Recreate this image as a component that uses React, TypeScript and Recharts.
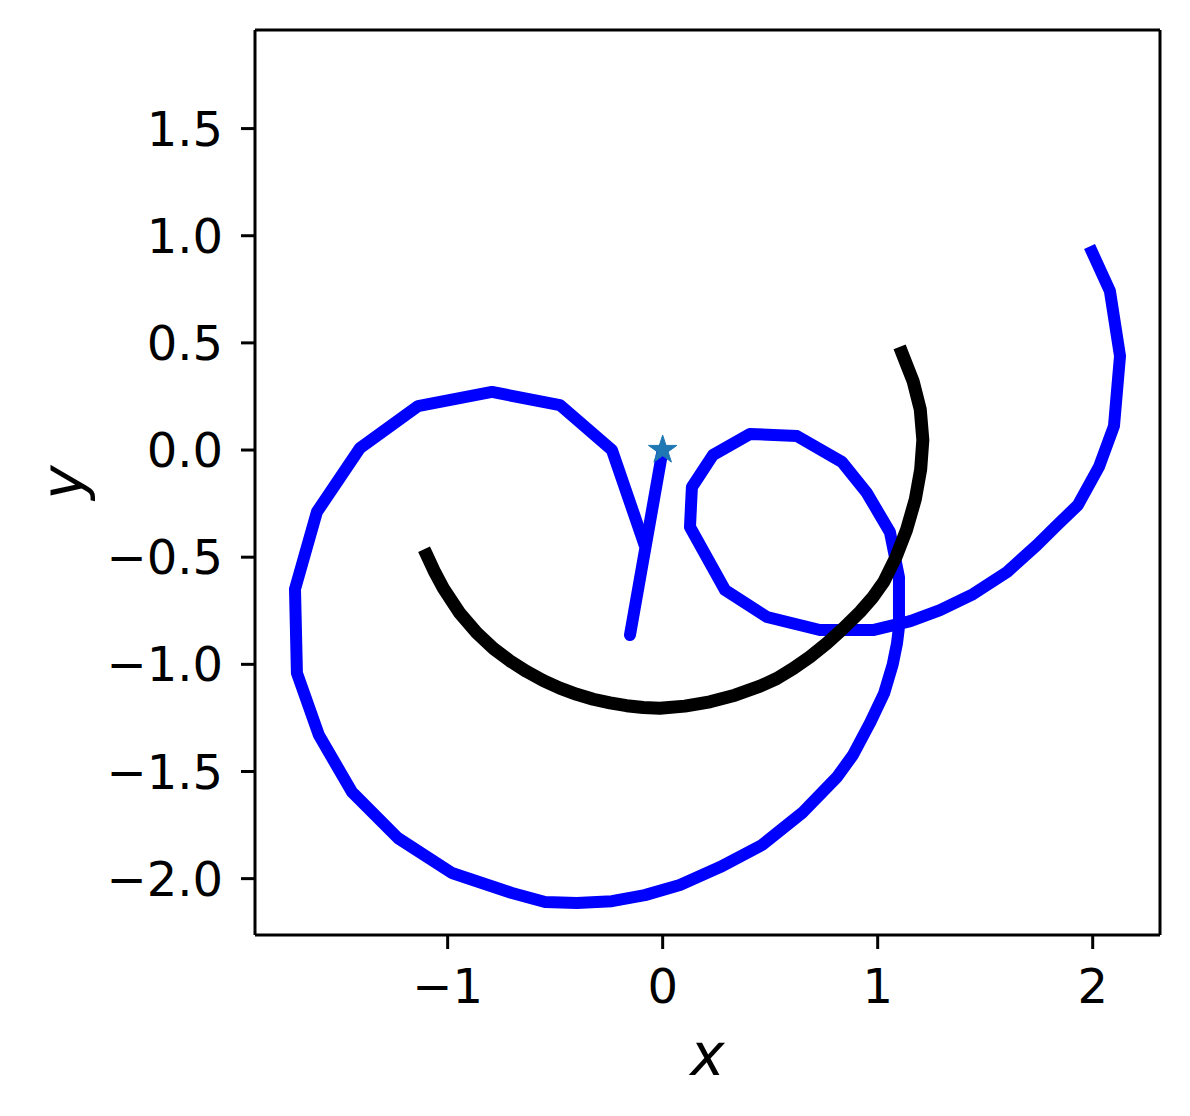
import React from 'react';
import { ScatterChart, Scatter, XAxis, YAxis, Symbols } from 'recharts';

const xTicks = [-1, 0, 1, 2];
const yTicks = [-2, -1.5, -1, -0.5, 0, 0.5, 1, 1.5];
const xDomain = [-1.896, 2.313];
const yDomain = [-2.263, 1.96];

const stemX = [0.0, -0.152];
const stemY = [0.0, -0.863];

const spiralX = [-0.092, -0.236, -0.478, -0.794, -1.138, -1.408, -1.608, -1.710, -1.701, -1.599, -1.445, -1.231, -0.980, -0.701, -0.547, -0.399, -0.236, -0.083, 0.080, 0.267, 0.462, 0.648, 0.811, 0.885, 0.964, 1.030, 1.070, 1.090, 1.099, 1.099, 1.057, 0.950, 0.834, 0.625, 0.406, 0.234, 0.136, 0.127, 0.290, 0.485, 0.731, 0.978, 1.152, 1.290, 1.444, 1.602, 1.741, 1.835, 1.931, 2.029, 2.099, 2.127, 2.080, 1.997];
const spiralY = [-0.420, 0.000, 0.210, 0.271, 0.205, 0.009, -0.289, -0.649, -1.041, -1.330, -1.596, -1.811, -1.974, -2.067, -2.109, -2.114, -2.105, -2.077, -2.030, -1.946, -1.843, -1.694, -1.526, -1.423, -1.274, -1.135, -1.000, -0.901, -0.826, -0.593, -0.383, -0.201, -0.056, 0.065, 0.075, -0.023, -0.173, -0.359, -0.653, -0.779, -0.840, -0.840, -0.798, -0.747, -0.672, -0.569, -0.443, -0.350, -0.257, -0.079, 0.112, 0.439, 0.742, 0.924];

const circleX = [-1.097, -1.060, -1.020, -0.943, -0.865, -0.787, -0.710, -0.633, -0.555, -0.478, -0.400, -0.323, -0.245, -0.168, -0.090, -0.013, 0.103, 0.220, 0.336, 0.453, 0.531, 0.608, 0.685, 0.763, 0.840, 0.918, 0.975, 1.030, 1.085, 1.135, 1.175, 1.200, 1.210, 1.198, 1.165, 1.113];
const circleY = [-0.490, -0.570, -0.645, -0.762, -0.853, -0.926, -0.984, -1.033, -1.076, -1.111, -1.140, -1.163, -1.180, -1.193, -1.201, -1.205, -1.195, -1.175, -1.144, -1.102, -1.066, -1.019, -0.965, -0.902, -0.832, -0.755, -0.690, -0.612, -0.500, -0.370, -0.230, -0.090, 0.047, 0.190, 0.320, 0.453];

const starX = [0];
const starY = [0];

const zip = (xs: number[], ys: number[]) => xs.map((x, i) => ({ x, y: ys[i] }));

const stemData = zip(stemX, stemY);
const spiralData = zip(spiralX, spiralY);
const circleData = zip(circleX, circleY);
const starData = zip(starX, starY);

const FONT = '"DejaVu Sans", sans-serif';
const TICK_FS = 48;
const LABEL_FS = 58;

const fmtX = (v: number) => (v < 0 ? '\u2212' + Math.abs(v).toString() : v.toString());
const fmtY = (v: number) => (v < 0 ? '\u2212' + Math.abs(v).toFixed(1) : v.toFixed(1));

const NoDot = () => <g />;

const StarShape = (props: any) => (
  <Symbols cx={props.cx} cy={props.cy} type="star" size={250} fill="#1f77b4" stroke="#1f77b4" strokeWidth={1} />
);

const XLabel = (props: any) => {
  const vb = props.viewBox || {};
  const cx = vb.x + vb.width / 2;
  return (
    <text x={cx} y={vb.y + 140} textAnchor="middle" fontFamily={FONT} fontStyle="italic" fontSize={LABEL_FS} fill="#000">
      x
    </text>
  );
};

const YLabel = (props: any) => {
  const vb = props.viewBox || {};
  const cy = vb.y + vb.height / 2;
  const x = 83;
  return (
    <text x={x} y={cy} textAnchor="middle" fontFamily={FONT} fontStyle="italic" fontSize={LABEL_FS} fill="#000" transform={`rotate(-90, ${x}, ${cy})`}>
      y
    </text>
  );
};

export default function App() {
  return (
    <div style={{ position: 'absolute', left: 0, top: 0, width: 1190, height: 1116, background: '#fff' }}>
      <ScatterChart width={1190} height={1116} margin={{ top: 29, right: 29, bottom: 0, left: 0 }}>
        <XAxis
          type="number"
          dataKey="x"
          domain={xDomain}
          allowDataOverflow
          ticks={xTicks}
          tickFormatter={fmtX}
          height={181}
          tickSize={14}
          tickMargin={20}
          axisLine={{ stroke: '#000', strokeWidth: 3 }}
          tickLine={{ stroke: '#000', strokeWidth: 3 }}
          tick={{ fill: '#000', fontSize: TICK_FS, fontFamily: FONT }}
          label={<XLabel />}
        />
        <YAxis
          type="number"
          dataKey="y"
          domain={yDomain}
          allowDataOverflow
          ticks={yTicks}
          tickFormatter={fmtY}
          width={255}
          tickSize={14}
          tickMargin={18}
          axisLine={{ stroke: '#000', strokeWidth: 3 }}
          tickLine={{ stroke: '#000', strokeWidth: 3 }}
          tick={{ fill: '#000', fontSize: TICK_FS, fontFamily: FONT }}
          label={<YLabel />}
        />
        <XAxis
          xAxisId="top"
          orientation="top"
          type="number"
          dataKey="x"
          domain={xDomain}
          allowDataOverflow
          height={1}
          tick={false}
          tickLine={false}
          axisLine={{ stroke: '#000', strokeWidth: 3 }}
        />
        <YAxis
          yAxisId="right"
          orientation="right"
          type="number"
          dataKey="y"
          domain={yDomain}
          allowDataOverflow
          width={1}
          tick={false}
          tickLine={false}
          axisLine={{ stroke: '#000', strokeWidth: 3 }}
        />
        <Scatter
          xAxisId="top"
          yAxisId="right"
          data={starData}
          fill="none"
          shape={NoDot}
          isAnimationActive={false}
        />
        <Scatter
          data={stemData}
          fill="#0000ff"
          line={{ stroke: '#0000ff', strokeWidth: 12, strokeLinecap: 'round', strokeLinejoin: 'round' }}
          shape={NoDot}
          isAnimationActive={false}
        />
        <Scatter
          data={spiralData}
          fill="#0000ff"
          line={{ stroke: '#0000ff', strokeWidth: 12, strokeLinecap: 'square', strokeLinejoin: 'round' }}
          shape={NoDot}
          isAnimationActive={false}
        />
        <Scatter
          data={circleData}
          fill="#000000"
          line={{ stroke: '#000000', strokeWidth: 13, strokeLinecap: 'square', strokeLinejoin: 'round' }}
          shape={NoDot}
          isAnimationActive={false}
        />
        <Scatter data={starData} fill="#1f77b4" shape={StarShape} isAnimationActive={false} />
      </ScatterChart>
    </div>
  );
}
